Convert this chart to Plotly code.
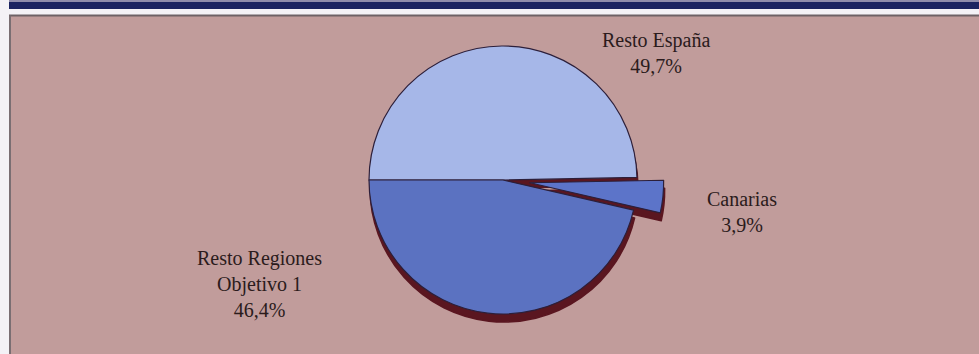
import plotly.graph_objects as go

# Distribution shares (%)
labels = ["Resto España", "Canarias", "Resto Regiones Objetivo 1"]
shares = [49.7, 3.9, 46.4]
label_lines = [["Resto España"], ["Canarias"], ["Resto Regiones", "Objetivo 1"]]
pulls = [0, 0.2, 0]
slice_colors = ["#a6b7e8", "#5c74c9", "#5b72c1"]

W, H = 979, 354
BG = "#c19c9b"
SHADOW = "#5a1620"
TEXT = "#2b1b1c"
FONT = "Liberation Serif, Times New Roman, serif"


def fx(x):
    return x / W


def fy(y):
    return 1 - y / H


# pie placement in pixels: centre, radius, drop-shadow offset
cx, cy, r = 503, 180, 134
half = r * (1 + max(pulls))
shadow_dx, shadow_dy = 1, 8


def domain(dx=0, dy=0):
    return dict(x=[fx(cx + dx - half), fx(cx + dx + half)],
                y=[fy(cy + dy + half), fy(cy + dy - half)])


fig = go.Figure()

# drop shadow under the pie
fig.add_trace(go.Pie(
    labels=labels, values=shares, pull=pulls, sort=False,
    direction="clockwise", rotation=-90,
    marker=dict(colors=[SHADOW] * len(shares), line=dict(color=SHADOW, width=1.5)),
    textinfo="none", hoverinfo="skip", showlegend=False,
    domain=domain(shadow_dx, shadow_dy),
))

# the pie itself
fig.add_trace(go.Pie(
    labels=labels, values=shares, pull=pulls, sort=False,
    direction="clockwise", rotation=-90,
    marker=dict(colors=slice_colors, line=dict(color="#2c1f3a", width=1.2)),
    textinfo="none", hoverinfo="label+percent", showlegend=False,
    domain=domain(),
))

# label blocks: centre of each block in pixels
label_pos = [(656, 53), (742, 212), (259, 284)]

annotations = []
for lines, value, (lx, ly) in zip(label_lines, shares, label_pos):
    pct = f"{value:.1f}".replace(".", ",") + "%"
    annotations.append(dict(
        x=fx(lx), y=fy(ly), xref="paper", yref="paper",
        text="<br>".join(lines + [pct]), showarrow=False,
        xanchor="center", yanchor="middle", align="center",
        font=dict(family=FONT, size=20, color=TEXT),
    ))

shapes = [
    # white margins round the panel
    dict(type="rect", xref="paper", yref="paper", x0=0, x1=1, y0=fy(15), y1=1,
         fillcolor="#f4f2f6", line_width=0, layer="below"),
    dict(type="rect", xref="paper", yref="paper", x0=0, x1=fx(9), y0=0, y1=1,
         fillcolor="#f4f2f6", line_width=0, layer="below"),
    # navy header band
    dict(type="rect", xref="paper", yref="paper", x0=fx(9), x1=1, y0=fy(9), y1=fy(2),
         fillcolor="#1b2361", line_width=0, layer="below"),
    dict(type="rect", xref="paper", yref="paper", x0=fx(9), x1=1, y0=fy(2), y1=1,
         fillcolor="#8f8cab", line_width=0, layer="below"),
    # panel border
    dict(type="line", xref="paper", yref="paper", x0=fx(9), x1=1, y0=fy(15.5), y1=fy(15.5),
         line=dict(color="#6e6266", width=2), layer="below"),
    dict(type="line", xref="paper", yref="paper", x0=fx(10), x1=fx(10), y0=0, y1=fy(15.5),
         line=dict(color="#7a6e72", width=2), layer="below"),
]

fig.update_layout(
    width=W, height=H,
    margin=dict(l=0, r=0, t=0, b=0),
    paper_bgcolor=BG, plot_bgcolor=BG,
    showlegend=False,
    annotations=annotations,
    shapes=shapes,
)

fig.write_html("out.html")
